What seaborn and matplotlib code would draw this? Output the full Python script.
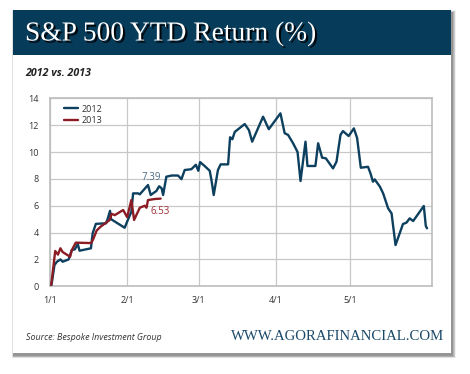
import matplotlib
matplotlib.use("Agg")
import matplotlib.pyplot as plt
import matplotlib.patheffects as pe
from matplotlib.patches import Rectangle
import seaborn as sns
import pandas as pd

# ---- data (day of year, YTD return %) ----
days_2012 = [0.6, 1.8, 2.8, 4.2, 5.1, 7.5, 8.8, 10.0, 11.2, 11.9, 16.5, 17.2, 18.5, 22.6, 23.3,
             24.2, 24.6, 30.1, 31.2, 32.8, 33.5, 35.5, 36.2, 39.5, 40.6, 42.9, 44.0, 45.0, 45.6,
             46.9, 49.0, 51.6, 53.0, 54.3, 57.0, 58.8, 59.8, 60.5, 62.4, 64.4, 65.1, 66.0, 66.8,
             67.7, 68.8, 71.8, 72.6, 73.5, 74.5, 78.5, 80.2, 81.5, 85.9, 88.2, 92.9, 94.6, 96.0,
             98.0, 99.8, 101.0, 103.0, 103.8, 107.0, 108.1, 109.7, 111.2, 114.1, 115.5, 117.1,
             118.1, 120.4, 122.5, 123.8, 125.3, 128.2, 129.2, 130.2, 130.9, 133.0, 134.3, 136.3,
             137.7, 139.3, 142.3, 143.7, 145.0, 146.4, 150.7, 151.5, 152.0]
vals_2012 = [0.1, 1.58, 1.83, 2.0, 1.83, 2.0, 2.7, 2.75, 3.15, 2.65, 2.83, 3.95, 4.65, 4.69, 5.05,
             5.62, 5.0, 4.36, 4.86, 5.55, 6.92, 6.92, 6.85, 7.54, 6.8, 7.1, 7.45, 7.3, 6.8,
             8.16, 8.25, 8.25, 7.98, 8.66, 8.72, 9.05, 8.6, 9.25, 8.95, 8.6, 7.9, 6.8, 7.67,
             8.66, 9.08, 9.08, 11.1, 10.95, 11.5, 12.08, 11.63, 10.77, 12.63, 11.7, 12.88, 11.4, 11.27,
             10.65, 10.0, 7.84, 10.77, 8.96, 8.96, 10.65, 9.58, 9.53, 8.78, 9.28, 11.27,
             11.56, 11.19, 11.76, 11.05, 8.83, 8.9, 8.41, 7.79, 7.96, 7.42, 6.92, 5.81,
             5.43, 3.07, 4.64, 4.74, 5.06, 4.86, 5.98, 4.49, 4.32]

days_2013 = [0.5, 2.1, 3.2, 4.2, 5.1, 8.1, 8.8, 10.4, 16.6, 17.4, 18.8, 20.4, 24.1, 24.8, 26.1,
             29.5, 31.1, 32.8, 33.9, 34.8, 36.2, 38.2, 38.9, 39.5, 42.2, 44.6]
vals_2013 = [0.1, 2.63, 2.36, 2.83, 2.55, 2.2, 2.7, 3.25, 3.22, 3.5, 4.15, 4.44, 4.94, 5.4, 5.3,
             5.68, 5.15, 6.42, 4.94, 5.3, 5.85, 6.0, 5.85, 6.42, 6.5, 6.53]

tick_days = [0, 31, 60, 91, 121]
tick_labels = ["1/1", "2/1", "3/1", "4/1", "5/1"]
y_ticks = [0, 2, 4, 6, 8, 10, 12, 14]
label_2012 = "7.39"
label_2013 = "6.53"

NAVY = "#0d3f5f"
RED = "#8c1c24"

df = pd.concat([
    pd.DataFrame({"day": days_2012, "ret": vals_2012, "year": "2012"}),
    pd.DataFrame({"day": days_2013, "ret": vals_2013, "year": "2013"}),
])

sns.set_style("white")
plt.rcParams["font.family"] = ["Open Sans", "DejaVu Sans"]

W, H = 470, 374
fig = plt.figure(figsize=(W / 100, H / 100), dpi=100)
fig.patch.set_facecolor("white")

# card shadow + card + title band (figure pixel coords)
bg = fig.add_axes([0, 0, 1, 1])
bg.set_xlim(0, W)
bg.set_ylim(H, 0)
bg.axis("off")
for i, a in enumerate([0.05, 0.07, 0.09, 0.12, 0.16]):
    off = 5 - i
    bg.add_patch(Rectangle((13 - 1 + i * 0.3, 10 + i * 0.5), 438 + off + 1, 343 + off,
                           facecolor="black", alpha=a, edgecolor="none", zorder=1))
bg.add_patch(Rectangle((13, 10), 438, 343, facecolor="white", edgecolor="none", zorder=2))
bg.add_patch(Rectangle((13, 10), 438, 45, facecolor="#073b5a", edgecolor="none", zorder=3))

bg.text(25, 34, "S&P 500 YTD Return (%)", color="white", fontsize=19.8,
        family="Liberation Serif", va="center", ha="left", zorder=4,
        path_effects=[pe.withSimplePatchShadow(offset=(1.5, -1.5), shadow_rgbFace="black", alpha=0.9)])
bg.text(25, 73, "2012 vs. 2013", color="#222222", fontsize=7.7, fontweight="bold",
        style="italic", va="center", ha="left", zorder=4)
bg.text(26, 337, "Source: Bespoke Investment Group", color="#333333", fontsize=6.4,
        style="italic", va="center", ha="left", zorder=4)
bg.text(444, 337, "WWW.AGORAFINANCIAL.COM", color="#1a4868", fontsize=10.6,
        family="Liberation Serif", va="center", ha="right", zorder=4)

# main chart
ax = fig.add_axes([50 / W, (H - 286.3) / H, (432 - 50) / W, (286.3 - 98.3) / H])
ax.set_facecolor("white")
sns.lineplot(data=df, x="day", y="ret", hue="year", palette={"2012": NAVY, "2013": RED},
             estimator=None, sort=True, linewidth=1.7, ax=ax, zorder=3)

ax.set_xlim(0, 154)
ax.set_ylim(0, 14)
ax.set_xticks(tick_days)
ax.set_xticklabels(tick_labels)
ax.set_yticks(y_ticks)
ax.set_xlabel("")
ax.set_ylabel("")
ax.grid(True, color="#c8c8c8", linewidth=0.9)
ax.set_axisbelow(True)
for s in ax.spines.values():
    s.set_color("#bdbdbd")
    s.set_linewidth(1.2)
ax.tick_params(axis="both", length=0, labelsize=6.5, labelcolor="#333333")
ax.tick_params(axis="x", pad=7)
ax.tick_params(axis="y", pad=8)

ax.text(41.0, 8.1, label_2012, color="#4a6a82", fontsize=7, ha="center", va="center")
ax.text(44.3, 5.55, label_2013, color="#a03038", fontsize=7, ha="center", va="center")

leg = ax.legend(loc="upper left", frameon=False, fontsize=6.5, handlelength=1.6,
                handletextpad=0.4, labelspacing=0.25, borderaxespad=0.3,
                bbox_to_anchor=(0.02, 1.0))
for t in leg.get_texts():
    t.set_color("#333333")

fig.savefig("out.png", dpi=100, facecolor="white")
